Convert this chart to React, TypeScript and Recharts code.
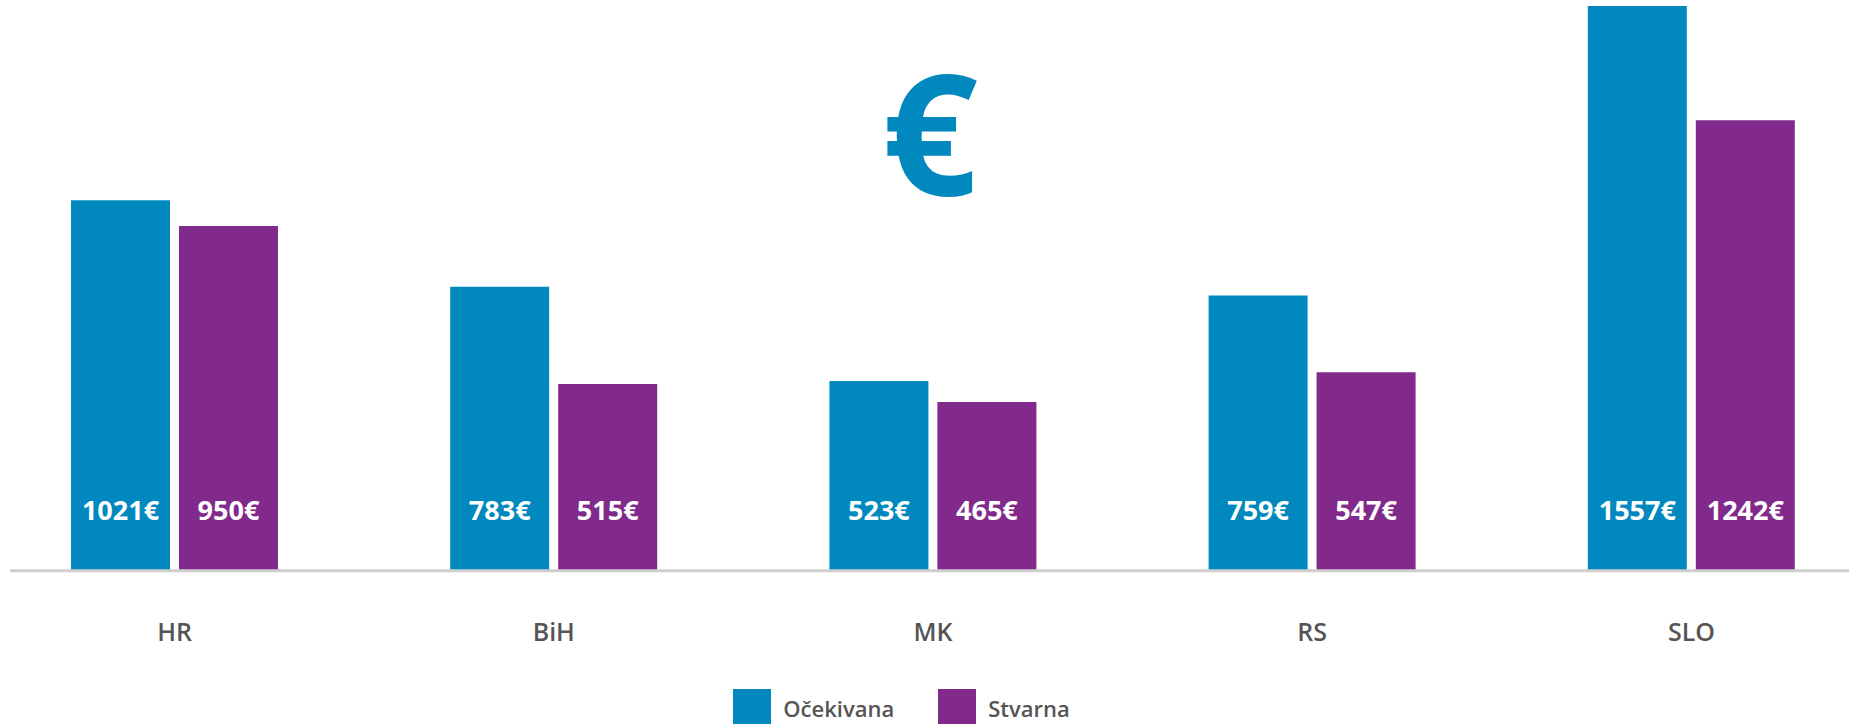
import React from 'react';
import { BarChart, Bar, XAxis, YAxis, Legend, LabelList } from 'recharts';

const categories = ['HR', 'BiH', 'MK', 'RS', 'SLO'];
const expectedValues = [1021, 783, 523, 759, 1557];
const actualValues = [950, 515, 465, 547, 1242];
const seriesNames = ['Očekivana', 'Stvarna'];
const seriesColors = ['#0088bf', '#82298c'];
const currency = '€';

const data = categories.map((c, i) => ({
  name: c,
  expected: expectedValues[i],
  actual: actualValues[i],
}));

const FONT = "'Open Sans', 'Noto Sans', sans-serif";

const ValueLabel = (props: any) => {
  const { x, y, width, height, value } = props;
  return (
    <text
      x={x + width / 2}
      y={y + height - 61}
      textAnchor="middle"
      dominantBaseline="central"
      fill="#ffffff"
      fontSize={27}
      fontWeight={700}
      fontFamily={FONT}
    >
      {`${value}${currency}`}
    </text>
  );
};

const CategoryTick = (props: any) => {
  const { x, y, payload } = props;
  return (
    <text
      x={x}
      y={y + 60}
      textAnchor="middle"
      dominantBaseline="central"
      fill="#555555"
      fontSize={25}
      fontWeight={600}
      fontFamily={FONT}
    >
      {payload.value}
    </text>
  );
};

const LegendContent = () => (
  <div
    style={{
      display: 'flex',
      justifyContent: 'center',
      alignItems: 'center',
      paddingTop: 25,
      paddingRight: 56,
      boxSizing: 'border-box',
      fontFamily: FONT,
    }}
  >
    {seriesNames.map((n, i) => (
      <div
        key={n}
        style={{ display: 'flex', alignItems: 'center', marginRight: i === 0 ? 44 : 0 }}
      >
        <div style={{ width: 38, height: 38, background: seriesColors[i], marginRight: 12 }} />
        <span style={{ fontSize: 22, fontWeight: 600, color: '#555555' }}>{n}</span>
      </div>
    ))}
  </div>
);

export default function App() {
  return (
    <div
      style={{
        position: 'absolute',
        left: 0,
        top: 0,
        width: 1849,
        height: 724,
        overflow: 'hidden',
        background: '#ffffff',
      }}
    >
      <svg
        width={1849}
        height={724}
        style={{ position: 'absolute', left: 0, top: 0, pointerEvents: 'none' }}
      >
        <text
          x={930}
          y={195}
          textAnchor="middle"
          fill={seriesColors[0]}
          fontSize={168}
          fontWeight={700}
          fontFamily={FONT}
        >
          {currency}
        </text>
      </svg>
      <div style={{ position: 'absolute', left: 0, top: 0 }}>
        <BarChart
          width={1849}
          height={724}
          data={data}
          margin={{ top: 4.8, left: 10, right: 0, bottom: 0 }}
          barSize={99}
          barGap={9}
        >
          <XAxis
            dataKey="name"
            axisLine={{ stroke: '#cfcfcf', strokeWidth: 3 }}
            tickLine={false}
            tickSize={0}
            tickMargin={0}
            height={93.2}
            interval={0}
            padding={{ left: -25, right: -32 }}
            tick={<CategoryTick />}
          />
          <YAxis hide domain={[0, 1560]} allowDataOverflow />
          <Legend verticalAlign="bottom" height={60} content={<LegendContent />} />
          <Bar dataKey="expected" name={seriesNames[0]} fill={seriesColors[0]} isAnimationActive={false}>
            <LabelList dataKey="expected" content={<ValueLabel />} />
          </Bar>
          <Bar dataKey="actual" name={seriesNames[1]} fill={seriesColors[1]} isAnimationActive={false}>
            <LabelList dataKey="actual" content={<ValueLabel />} />
          </Bar>
        </BarChart>
      </div>
    </div>
  );
}
